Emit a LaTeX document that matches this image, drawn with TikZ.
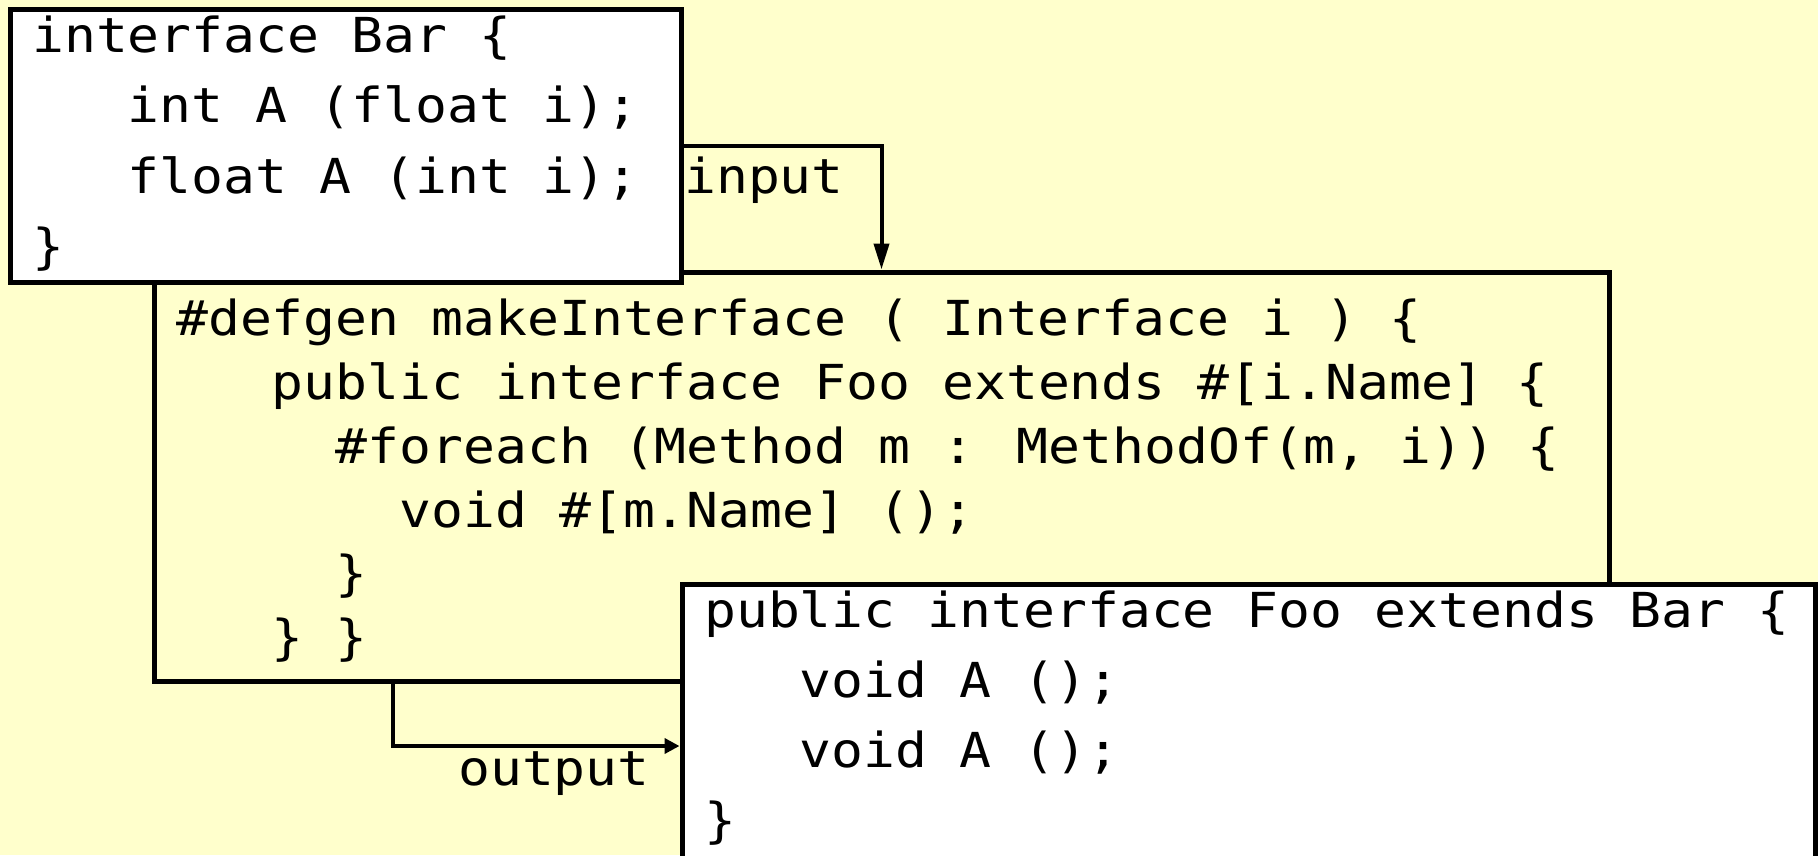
\documentclass[tikz,border=0pt]{standalone}
\usepackage{fontspec}
\newfontfamily\codefont[FakeStretch=1.1]{DejaVu Sans Mono}
\usetikzlibrary{arrows.meta}
\definecolor{paper}{HTML}{FFFFCC}
\begin{document}
\begin{tikzpicture}[x=1pt,y=-1pt,
  box/.style={draw=black,line width=5pt,inner sep=0pt,rectangle},
  code/.style={font=\codefont\fontsize{48.2}{58}\selectfont,inner sep=0pt,anchor=base west},
  conn/.style={draw=black,line width=4pt}]
\useasboundingbox (0,0) rectangle (1818,855);
\fill[paper] (0,0) rectangle (1818,855);
\clip (0,0) rectangle (1818,855);

% generator template (drawn first, the other two boxes overlap it)
\node[box,fill=paper,minimum width=1455pt,minimum height=409pt] (gen) at (881.5,476.5) {};
% input interface
\node[box,fill=white,minimum width=671pt,minimum height=272.5pt] (bar) at (345.5,145.75) {};
% generated interface
\node[box,fill=white,minimum width=1133pt,minimum height=316pt] (foo) at (1248.5,742) {};

% code of the input interface
\node[code] (bar1) at (32,52) {interface Bar \{};
\node[code] (bar2) at (32,122.5) {\phantom{xxx}int A (float i);};
\node[code] (bar3) at (32,193) {\phantom{xxx}float A (int i);};
\node[code] (bar4) at (32,263) {\}};

% code of the generator
\node[code] (gen1) at (176,335) {\#defgen makeInterface ( Interface i ) \{};
\node[code] (gen2) at (176,399) {\phantom{xxx}public interface Foo extends \#[i.Name] \{};
\node[code] (gen3) at (176,463) {\phantom{xxxxx}\#foreach (Method m : MethodOf(m, i)) \{};
\node[code] (gen4) at (176,527) {\phantom{xxxxxxx}void \#[m.Name] ();};
\node[code] (gen5) at (176,590) {\phantom{xxxxx}\}};
\node[code] (gen6) at (176,654) {\phantom{xxx}\} \}};

% code of the generated interface
\node[code] (foo1) at (704,627) {public interface Foo extends Bar \{};
\node[code] (foo2) at (704,697) {\phantom{xxx}void A ();};
\node[code] (foo3) at (704,767) {\phantom{xxx}void A ();};
\node[code] (foo4) at (704,837) {\}};

% connectors
\coordinate (outbend) at (393,746);
\draw[conn,-{Triangle[length=26pt,width=15pt]}] (bar.east) -| (gen.north);
\draw[conn,-{Triangle[length=15pt,width=15pt]}] (gen.south -| outbend) |- (foo.west |- outbend);

% connector labels
\node[code] (inlabel) at (684,193) {input};
\node[code] (outlabel) at (458,785) {output};
\end{tikzpicture}
\end{document}
